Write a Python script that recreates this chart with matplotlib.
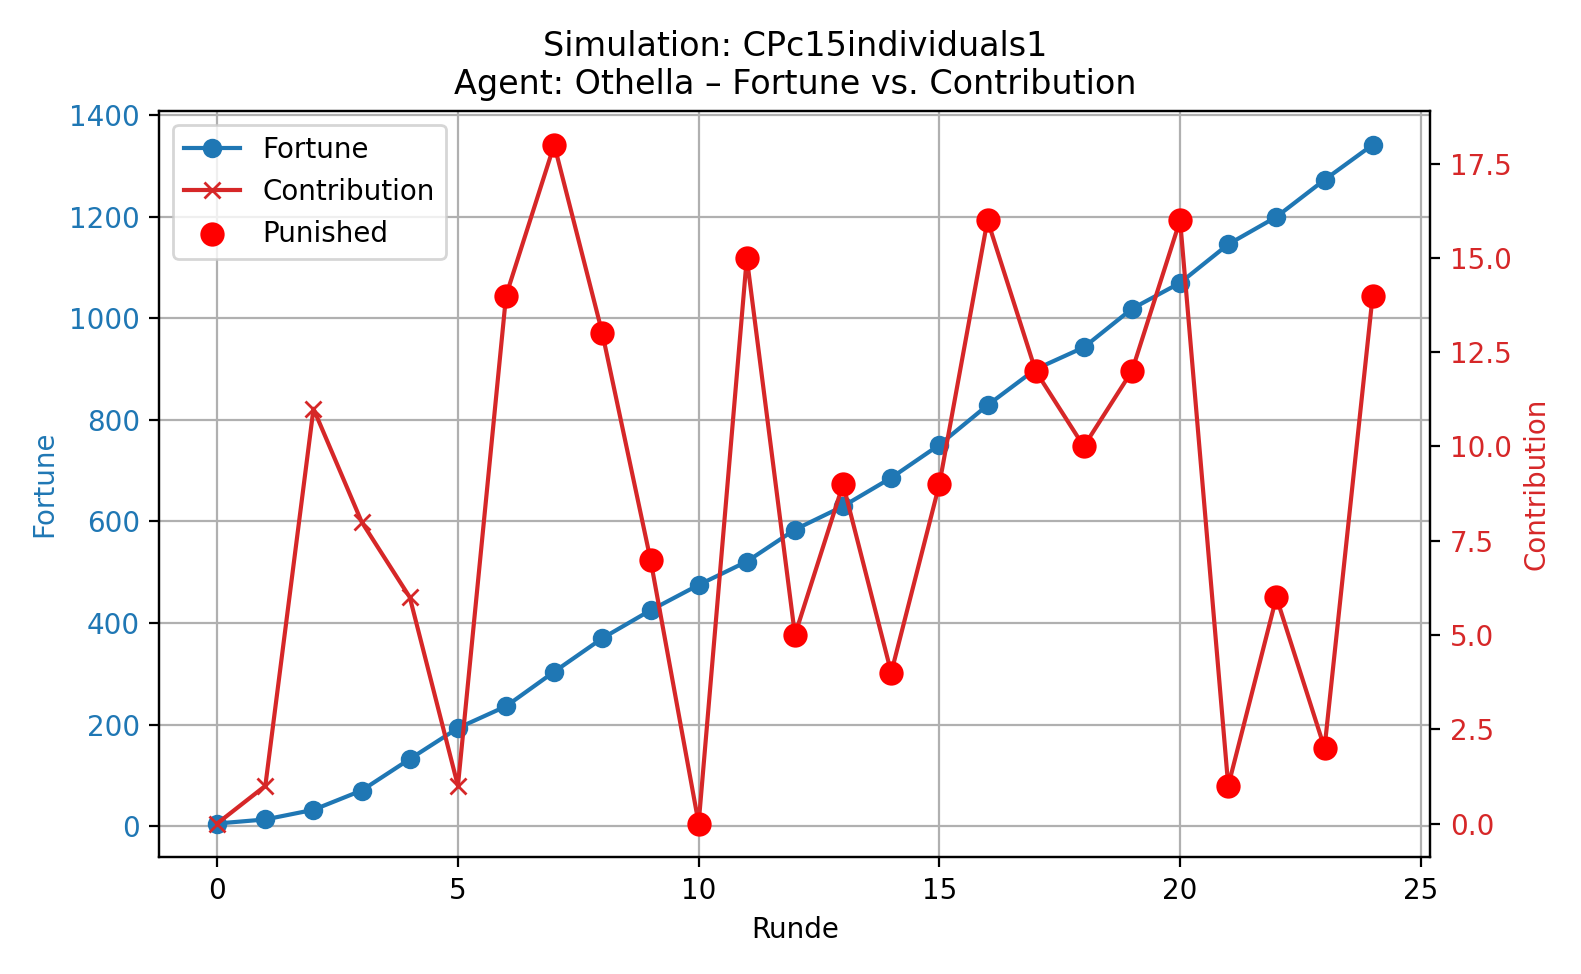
import matplotlib
matplotlib.use("Agg")
import matplotlib.pyplot as plt

rounds = list(range(25))
fortune = [5, 13, 32, 70, 132, 193, 236, 304, 370, 425, 475, 521, 584, 630, 686,
           751, 829, 900, 943, 1019, 1070, 1146, 1200, 1273, 1342]
contribution = [0, 1, 11, 8, 6, 1, 14, 18, 13, 7, 0, 15, 5, 9, 4, 9, 16, 12, 10, 12,
                16, 1, 6, 2, 14]
punished_rounds = [6, 7, 8, 9, 10, 11, 12, 13, 14, 15, 16, 17, 18, 19, 20, 21, 22, 23, 24]
punished_vals = [contribution[r] for r in punished_rounds]

fig, ax1 = plt.subplots(figsize=(7.905, 4.87), dpi=200)
l1, = ax1.plot(rounds, fortune, color="tab:blue", marker="o", label="Fortune")
ax1.set_xlabel("Runde")
ax1.set_ylabel("Fortune", color="tab:blue")
ax1.tick_params(axis="y", labelcolor="tab:blue")
ax1.grid(True)

ax2 = ax1.twinx()
l2, = ax2.plot(rounds, contribution, color="tab:red", marker="x", label="Contribution")
l3 = ax2.scatter(punished_rounds, punished_vals, color="red", s=60, zorder=5, label="Punished")
ax2.set_ylabel("Contribution", color="tab:red")
ax2.tick_params(axis="y", labelcolor="tab:red")

ax1.legend([l1, l2, l3], ["Fortune", "Contribution", "Punished"], loc="upper left")
ax1.set_title("Simulation: CPc15individuals1\nAgent: Othella – Fortune vs. Contribution")
fig.tight_layout()
fig.savefig("out.png", dpi=200)
